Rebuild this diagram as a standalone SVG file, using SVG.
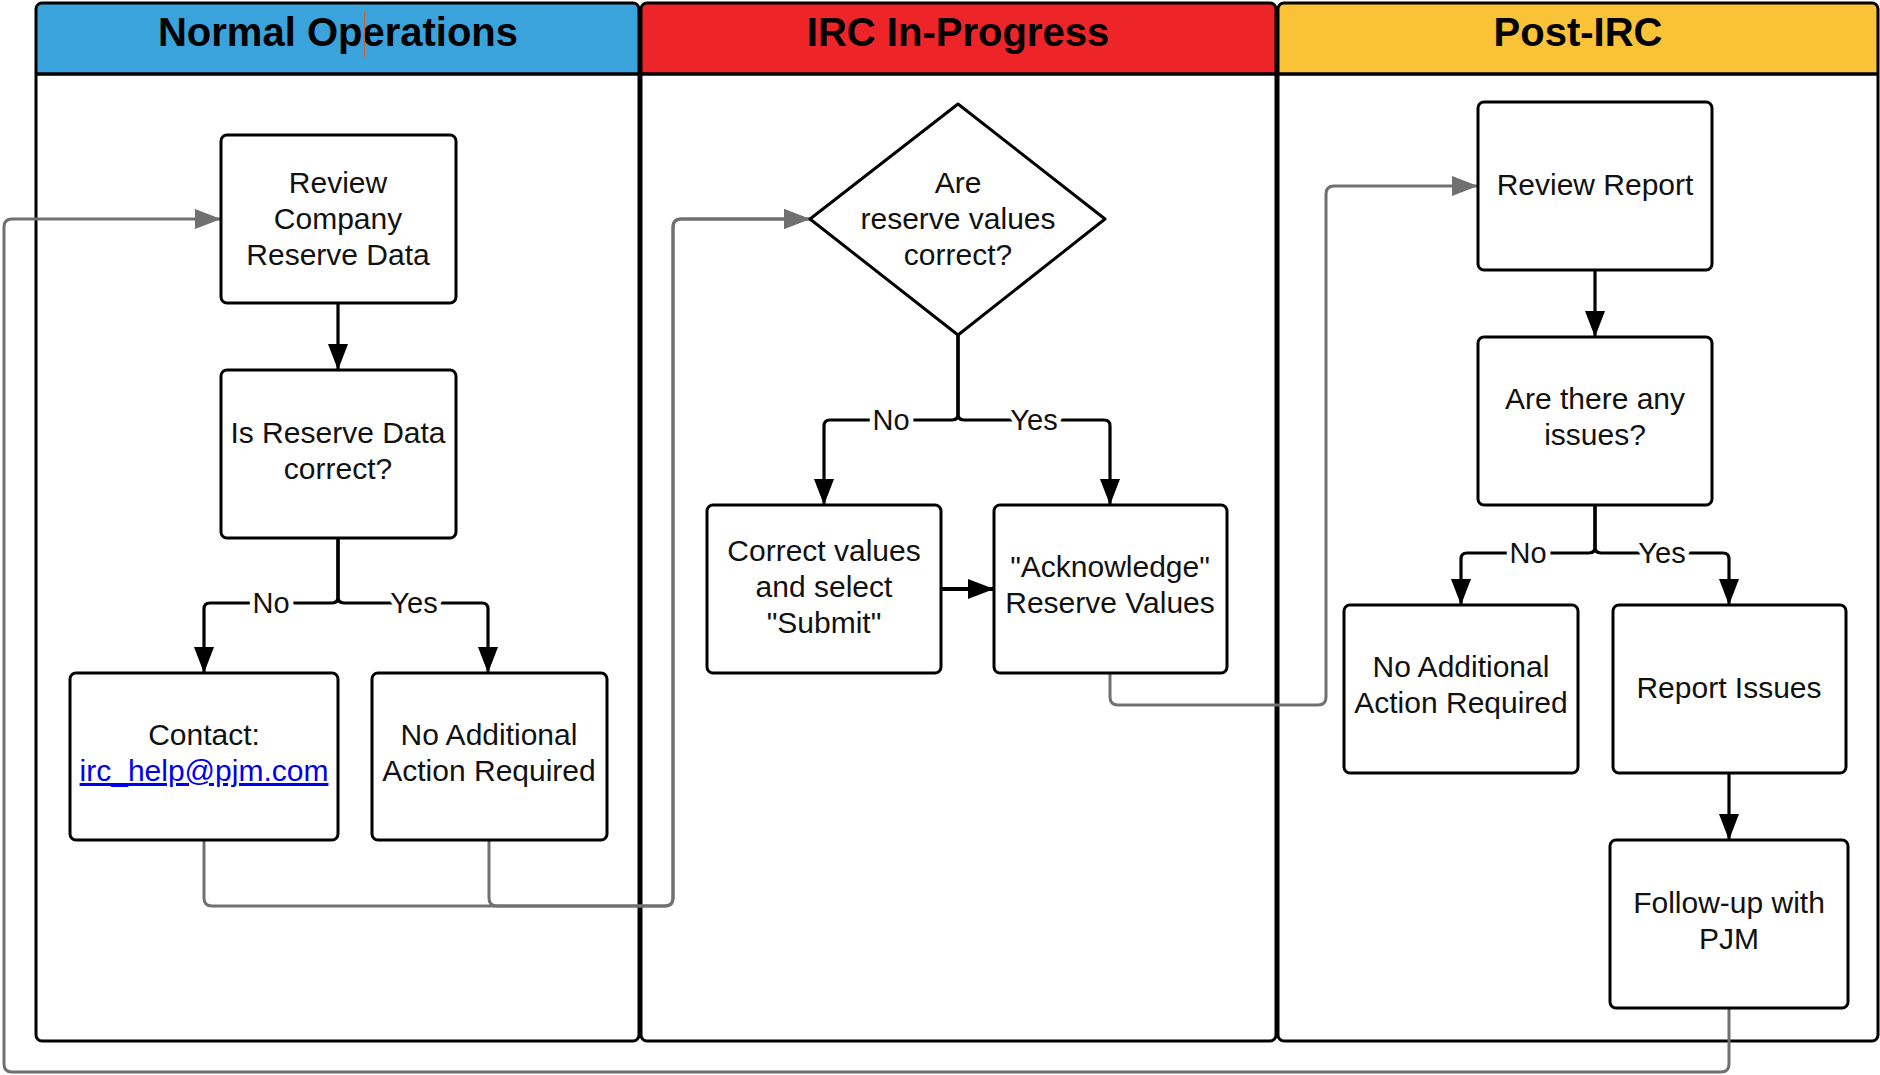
<svg xmlns="http://www.w3.org/2000/svg" width="1880" height="1075" viewBox="0 0 1880 1075">
<defs>
<style>
.lane{fill:none;stroke:#000;stroke-width:3}
.hdr{font-family:"Liberation Sans",Arial,sans-serif;font-weight:bold;font-size:40px;text-anchor:middle;fill:#000}
.box{fill:#fff;stroke:#000;stroke-width:3}
.t{font-family:"Liberation Sans",Arial,sans-serif;font-size:30px;text-anchor:middle;fill:#111}
.lbl{font-family:"Liberation Sans",Arial,sans-serif;font-size:29px;text-anchor:middle;fill:#111;stroke:#fff;stroke-width:10;paint-order:stroke;stroke-linejoin:round}
.c{fill:none;stroke:#000;stroke-width:3.2;marker-end:url(#ab)}
.g{fill:none;stroke:#707070;stroke-width:3;marker-end:url(#ag)}
.link{fill:#0000EE;text-decoration:underline}
</style>
<marker id="ab" markerUnits="userSpaceOnUse" markerWidth="28" markerHeight="22" refX="26" refY="10" orient="auto">
<path d="M0,0 L26,10 L0,20 z" fill="#000"/>
</marker>
<marker id="ag" markerUnits="userSpaceOnUse" markerWidth="28" markerHeight="22" refX="26" refY="10" orient="auto">
<path d="M0,0 L26,10 L0,20 z" fill="#707070"/>
</marker>
</defs>
<rect width="1880" height="1075" fill="#fff"/>

<g id="lane-normal">
<path d="M36,74 V9 Q36,3 42,3 H633 Q639,3 639,9 V74 Z" fill="#3BA3DB"/>
<rect class="lane" x="36" y="3" width="603" height="1038" rx="6"/>
<line x1="36" y1="74" x2="639" y2="74" stroke="#000" stroke-width="3.5"/>
<text class="hdr" x="338" y="46">Normal Operations</text>
<line x1="364.5" y1="12" x2="364.5" y2="57" stroke="#c8622e" stroke-width="1"/>
</g>
<g id="lane-irc">
<path d="M641,74 V9 Q641,3 647,3 H1270 Q1276,3 1276,9 V74 Z" fill="#EE2528"/>
<rect class="lane" x="641" y="3" width="635" height="1038" rx="6"/>
<line x1="641" y1="74" x2="1276" y2="74" stroke="#000" stroke-width="3.5"/>
<text class="hdr" x="958" y="46">IRC In-Progress</text>
</g>
<g id="lane-post">
<path d="M1278,74 V9 Q1278,3 1284,3 H1872 Q1878,3 1878,9 V74 Z" fill="#FAC236"/>
<rect class="lane" x="1278" y="3" width="600" height="1038" rx="6"/>
<line x1="1278" y1="74" x2="1878" y2="74" stroke="#000" stroke-width="3.5"/>
<text class="hdr" x="1578" y="46">Post-IRC</text>
</g>

<g id="connectors">
<path class="c" d="M338,303 V370"/>
<path class="c" d="M338,538 V597 Q338,603 332,603 H210 Q204,603 204,609 V673"/>
<path class="c" d="M338,538 V597 Q338,603 344,603 H482 Q488,603 488,609 V673"/>
<text class="lbl" x="271" y="613">No</text>
<text class="lbl" x="414" y="613">Yes</text>

<path class="c" d="M958,335 V414 Q958,420 952,420 H830 Q824,420 824,426 V505"/>
<path class="c" d="M958,335 V414 Q958,420 964,420 H1104 Q1110,420 1110,426 V505"/>
<text class="lbl" x="891" y="430">No</text>
<text class="lbl" x="1034" y="430">Yes</text>
<path class="c" d="M941,589 H994" style="stroke-width:4"/>

<path class="c" d="M1595,270 V337"/>
<path class="c" d="M1595,505 V547 Q1595,553 1589,553 H1467 Q1461,553 1461,559 V605"/>
<path class="c" d="M1595,505 V547 Q1595,553 1601,553 H1723 Q1729,553 1729,559 V605"/>
<text class="lbl" x="1528" y="563">No</text>
<text class="lbl" x="1662" y="563">Yes</text>
<path class="c" d="M1729,773 V840"/>

<path class="g" d="M204,840 V898 Q204,906 212,906 H665 Q673,906 673,898 V227 Q673,219 681,219 H810"/>
<path class="g" d="M489,840 V898 Q489,906 497,906 H665 Q673,906 673,898 V227 Q673,219 681,219 H810"/>
<path class="g" d="M1110,673 V697 Q1110,705 1118,705 H1318 Q1326,705 1326,697 V194 Q1326,186 1334,186 H1478"/>
<path class="g" d="M1729,1008 V1064 Q1729,1072 1721,1072 H12 Q4,1072 4,1064 V227 Q4,219 12,219 H221"/>
</g>

<g id="n-review-company">
<rect class="box" x="221" y="135" width="235" height="168" rx="6"/>
<text class="t" x="338" y="193">Review</text>
<text class="t" x="338" y="229">Company</text>
<text class="t" x="338" y="265">Reserve Data</text>
</g>
<g id="n-is-reserve">
<rect class="box" x="221" y="370" width="235" height="168" rx="6"/>
<text class="t" x="338" y="443">Is Reserve Data</text>
<text class="t" x="338" y="479">correct?</text>
</g>
<g id="n-contact">
<rect class="box" x="70" y="673" width="268" height="167" rx="6"/>
<text class="t" x="204" y="745">Contact:</text>
<text class="t link" x="204" y="781">irc_help@pjm.com</text>
</g>
<g id="n-no-action-1">
<rect class="box" x="372" y="673" width="235" height="167" rx="6"/>
<text class="t" x="489" y="745">No Additional</text>
<text class="t" x="489" y="781">Action Required</text>
</g>
<g id="n-are-values">
<polygon class="box" points="958,104 1105,219 958,335 810,219" stroke-linejoin="round"/>
<text class="t" x="958" y="193">Are</text>
<text class="t" x="958" y="229">reserve values</text>
<text class="t" x="958" y="265">correct?</text>
</g>
<g id="n-correct">
<rect class="box" x="707" y="505" width="234" height="168" rx="6"/>
<text class="t" x="824" y="561">Correct values</text>
<text class="t" x="824" y="597">and select</text>
<text class="t" x="824" y="633">"Submit"</text>
</g>
<g id="n-acknowledge">
<rect class="box" x="994" y="505" width="233" height="168" rx="6"/>
<text class="t" x="1110" y="577">"Acknowledge"</text>
<text class="t" x="1110" y="613">Reserve Values</text>
</g>
<g id="n-review-report">
<rect class="box" x="1478" y="102" width="234" height="168" rx="6"/>
<text class="t" x="1595" y="195">Review Report</text>
</g>
<g id="n-any-issues">
<rect class="box" x="1478" y="337" width="234" height="168" rx="6"/>
<text class="t" x="1595" y="409">Are there any</text>
<text class="t" x="1595" y="445">issues?</text>
</g>
<g id="n-no-action-2">
<rect class="box" x="1344" y="605" width="234" height="168" rx="6"/>
<text class="t" x="1461" y="677">No Additional</text>
<text class="t" x="1461" y="713">Action Required</text>
</g>
<g id="n-report-issues">
<rect class="box" x="1613" y="605" width="233" height="168" rx="6"/>
<text class="t" x="1729" y="698">Report Issues</text>
</g>
<g id="n-follow-up">
<rect class="box" x="1610" y="840" width="238" height="168" rx="6"/>
<text class="t" x="1729" y="913">Follow-up with</text>
<text class="t" x="1729" y="949">PJM</text>
</g>
</svg>
